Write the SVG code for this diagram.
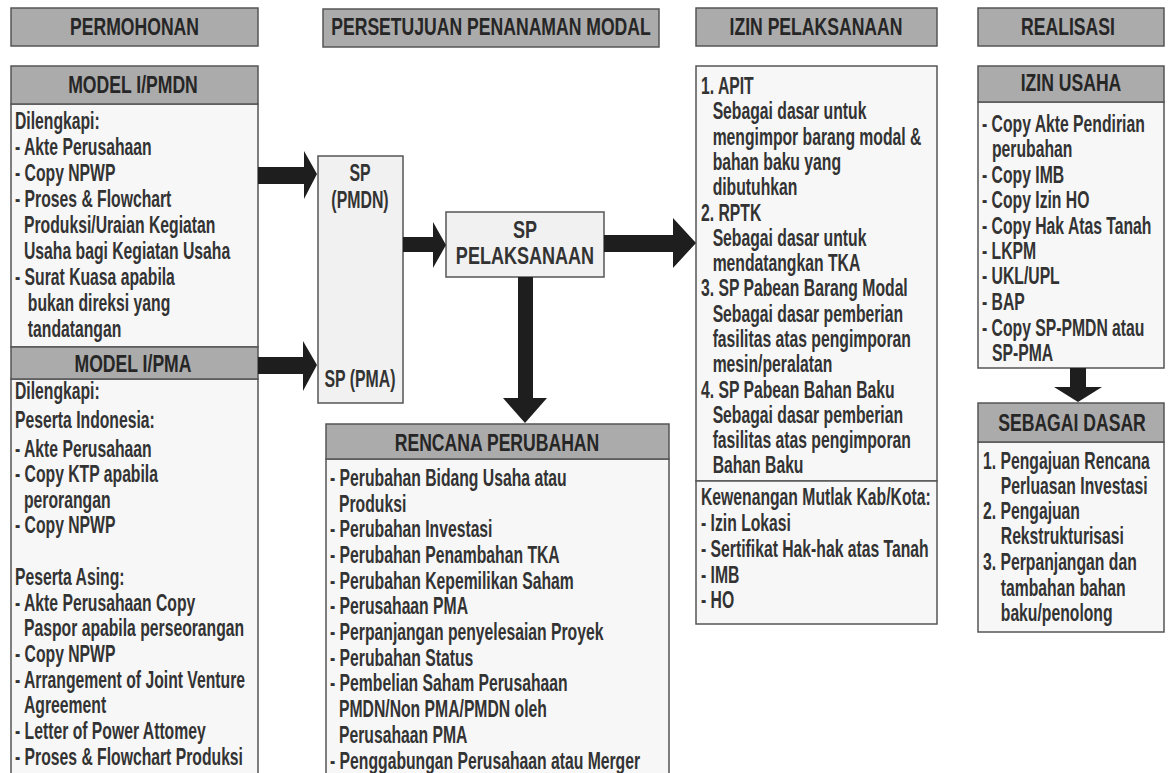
<svg xmlns="http://www.w3.org/2000/svg" width="1168" height="773" viewBox="0 0 1168 773">
<defs>
<style>
.hdr{fill:#ababab;stroke:#555;stroke-width:1.5}
.body{fill:#f7f7f7;stroke:#555;stroke-width:1.5}
.spbox{fill:#f1f1f1;stroke:#555;stroke-width:1.5}
.ht{font-family:"Liberation Sans",Arial,sans-serif;font-weight:bold;font-size:23px;fill:#262626;text-anchor:middle}
.bt{font-family:"Liberation Sans",Arial,sans-serif;font-weight:bold;font-size:23px;fill:#333}
.ct{font-family:"Liberation Sans",Arial,sans-serif;font-weight:bold;font-size:23px;fill:#333;text-anchor:middle}
.arr{fill:#1e1e1e}
</style>
</defs>
<rect width="1168" height="773" fill="#ffffff"/>

<g id="hdr-permohonan">
<rect class="hdr" x="11" y="8" width="247" height="38"/>
<g transform="translate(134.5,0) scale(0.765,1)"><text class="ht" x="0" y="35">PERMOHONAN</text></g>
</g>
<g id="hdr-persetujuan">
<rect class="hdr" x="323" y="9" width="336" height="38"/>
<g transform="translate(491,0) scale(0.765,1)"><text class="ht" x="0" y="35">PERSETUJUAN PENANAMAN MODAL</text></g>
</g>
<g id="hdr-izin">
<rect class="hdr" x="696" y="8" width="241" height="38"/>
<g transform="translate(816,0) scale(0.765,1)"><text class="ht" x="0" y="35">IZIN PELAKSANAAN</text></g>
</g>
<g id="hdr-realisasi">
<rect class="hdr" x="978" y="8" width="186" height="38"/>
<g transform="translate(1068,0) scale(0.765,1)"><text class="ht" x="0" y="35">REALISASI</text></g>
</g>

<g id="model-pmdn">
<rect class="body" x="11" y="104" width="247" height="243"/>
<rect class="hdr" x="11" y="66" width="247" height="38"/>
<g transform="translate(133,0) scale(0.765,1)"><text class="ht" x="0" y="93">MODEL I/PMDN</text></g>
<g transform="translate(15,0) scale(0.684,1)">
<text class="bt" x="0" y="129">Dilengkapi:</text>
<text class="bt" x="0" y="155">- Akte Perusahaan</text>
<text class="bt" x="0" y="181">- Copy NPWP</text>
<text class="bt" x="0" y="207">- Proses &amp; Flowchart</text>
<text class="bt" x="13.2" y="233">Produksi/Uraian Kegiatan</text>
<text class="bt" x="13.2" y="259">Usaha bagi Kegiatan Usaha</text>
<text class="bt" x="0" y="285">- Surat Kuasa apabila</text>
<text class="bt" x="18.8" y="311">bukan direksi yang</text>
<text class="bt" x="18.8" y="337">tandatangan</text>
</g>
</g>

<g id="model-pma">
<rect class="body" x="11" y="379" width="247" height="400"/>
<rect class="hdr" x="11" y="347" width="247" height="32"/>
<g transform="translate(133,0) scale(0.765,1)"><text class="ht" x="0" y="372">MODEL I/PMA</text></g>
<g transform="translate(15,0) scale(0.684,1)">
<text class="bt" x="0" y="399">Dilengkapi:</text>
<text class="bt" x="0" y="428">Peserta Indonesia:</text>
<text class="bt" x="0" y="457">- Akte Perusahaan</text>
<text class="bt" x="0" y="482">- Copy KTP apabila</text>
<text class="bt" x="13.2" y="508">perorangan</text>
<text class="bt" x="0" y="533">- Copy NPWP</text>
<text class="bt" x="0" y="585">Peserta Asing:</text>
<text class="bt" x="0" y="611">- Akte Perusahaan Copy</text>
<text class="bt" x="13.2" y="636">Paspor apabila perseorangan</text>
<text class="bt" x="0" y="662">- Copy NPWP</text>
<text class="bt" x="0" y="688">- Arrangement of Joint Venture</text>
<text class="bt" x="13.2" y="713">Agreement</text>
<text class="bt" x="0" y="739">- Letter of Power Attomey</text>
<text class="bt" x="0" y="765">- Proses &amp; Flowchart Produksi</text>
</g>
</g>

<g id="sp-box">
<rect class="spbox" x="318" y="156" width="85" height="247"/>
<g transform="translate(360,0) scale(0.69,1)">
<text class="ct" x="0" y="181">SP</text>
<text class="ct" x="0" y="208">(PMDN)</text>
<text class="ct" x="0" y="387">SP (PMA)</text>
</g>
</g>

<g id="sp-pelaksanaan">
<rect class="spbox" x="446" y="212" width="158" height="65"/>
<g transform="translate(525,0) scale(0.785,1)">
<text class="ct" x="0" y="238">SP</text>
<text class="ct" x="0" y="264">PELAKSANAAN</text>
</g>
</g>

<g id="rencana-perubahan">
<rect class="body" x="326" y="459" width="343" height="320"/>
<rect class="hdr" x="326" y="424" width="343" height="35"/>
<g transform="translate(497,0) scale(0.765,1)"><text class="ht" x="0" y="451">RENCANA PERUBAHAN</text></g>
<g transform="translate(330,0) scale(0.684,1)">
<text class="bt" x="0" y="486">- Perubahan Bidang Usaha atau</text>
<text class="bt" x="13.2" y="512">Produksi</text>
<text class="bt" x="0" y="537">- Perubahan Investasi</text>
<text class="bt" x="0" y="563">- Perubahan Penambahan TKA</text>
<text class="bt" x="0" y="589">- Perubahan Kepemilikan Saham</text>
<text class="bt" x="0" y="614">- Perusahaan PMA</text>
<text class="bt" x="0" y="640">- Perpanjangan penyelesaian Proyek</text>
<text class="bt" x="0" y="666">- Perubahan Status</text>
<text class="bt" x="0" y="691">- Pembelian Saham Perusahaan</text>
<text class="bt" x="13.2" y="717">PMDN/Non PMA/PMDN oleh</text>
<text class="bt" x="13.2" y="743">Perusahaan PMA</text>
<text class="bt" x="0" y="769">- Penggabungan Perusahaan atau Merger</text>
</g>
</g>

<g id="izin-pelaksanaan">
<rect class="body" x="696" y="66" width="241" height="415"/>
<g transform="translate(701,0) scale(0.684,1)">
<text class="bt" x="0" y="94">1. APIT</text>
<text class="bt" x="17" y="119">Sebagai dasar untuk</text>
<text class="bt" x="17" y="145">mengimpor barang modal &amp;</text>
<text class="bt" x="17" y="170">bahan baku yang</text>
<text class="bt" x="17" y="195">dibutuhkan</text>
<text class="bt" x="0" y="221">2. RPTK</text>
<text class="bt" x="17" y="246">Sebagai dasar untuk</text>
<text class="bt" x="17" y="271">mendatangkan TKA</text>
<text class="bt" x="0" y="296">3. SP Pabean Barang Modal</text>
<text class="bt" x="17" y="322">Sebagai dasar pemberian</text>
<text class="bt" x="17" y="347">fasilitas atas pengimporan</text>
<text class="bt" x="17" y="372">mesin/peralatan</text>
<text class="bt" x="0" y="398">4. SP Pabean Bahan Baku</text>
<text class="bt" x="17" y="423">Sebagai dasar pemberian</text>
<text class="bt" x="17" y="448">fasilitas atas pengimporan</text>
<text class="bt" x="17" y="473">Bahan Baku</text>
</g>
</g>

<g id="kewenangan">
<rect class="body" x="696" y="481" width="241" height="143"/>
<g transform="translate(701,0) scale(0.684,1)">
<text class="bt" x="0" y="505">Kewenangan Mutlak Kab/Kota:</text>
<text class="bt" x="0" y="531">- Izin Lokasi</text>
<text class="bt" x="0" y="557">- Sertifikat Hak-hak atas Tanah</text>
<text class="bt" x="0" y="583">- IMB</text>
<text class="bt" x="0" y="608">- HO</text>
</g>
</g>

<g id="izin-usaha">
<rect class="body" x="978" y="102" width="186" height="266"/>
<rect class="hdr" x="978" y="66" width="186" height="36"/>
<g transform="translate(1071,0) scale(0.765,1)"><text class="ht" x="0" y="91">IZIN USAHA</text></g>
<g transform="translate(982,0) scale(0.684,1)">
<text class="bt" x="0" y="132">- Copy Akte Pendirian</text>
<text class="bt" x="14.6" y="157">perubahan</text>
<text class="bt" x="0" y="183">- Copy IMB</text>
<text class="bt" x="0" y="208">- Copy Izin HO</text>
<text class="bt" x="0" y="234">- Copy Hak Atas Tanah</text>
<text class="bt" x="0" y="259">- LKPM</text>
<text class="bt" x="0" y="284">- UKL/UPL</text>
<text class="bt" x="0" y="310">- BAP</text>
<text class="bt" x="0" y="336">- Copy SP-PMDN atau</text>
<text class="bt" x="14.6" y="361">SP-PMA</text>
</g>
</g>

<g id="sebagai-dasar">
<rect class="body" x="978" y="442" width="186" height="190"/>
<rect class="hdr" x="978" y="403" width="186" height="39"/>
<g transform="translate(1072,0) scale(0.765,1)"><text class="ht" x="0" y="431">SEBAGAI DASAR</text></g>
<g transform="translate(983,0) scale(0.684,1)">
<text class="bt" x="0" y="469">1. Pengajuan Rencana</text>
<text class="bt" x="26" y="494">Perluasan Investasi</text>
<text class="bt" x="0" y="519">2. Pengajuan</text>
<text class="bt" x="26" y="544">Rekstrukturisasi</text>
<text class="bt" x="0" y="570">3. Perpanjangan dan</text>
<text class="bt" x="26" y="596">tambahan bahan</text>
<text class="bt" x="26" y="621">baku/penolong</text>
</g>
</g>

<g id="connectors">
<polygon class="arr" points="258,167 304,167 304,151 317,174 304,199 304,184 258,184"/>
<polygon class="arr" points="258,357 303,357 303,341 317,365 303,391 303,374 258,374"/>
<polygon class="arr" points="403,237 433,237 433,222 446,245 433,268 433,252 403,252"/>
<polygon class="arr" points="604,235 673,235 673,218 696,243 673,268 673,252 604,252"/>
<polygon class="arr" points="518,277 533,277 533,398 547,398 525,423 503,398 518,398"/>
<polygon class="arr" points="1070,368 1086,368 1086,387 1102,387 1078,402 1054,387 1070,387"/>
</g>
</svg>
